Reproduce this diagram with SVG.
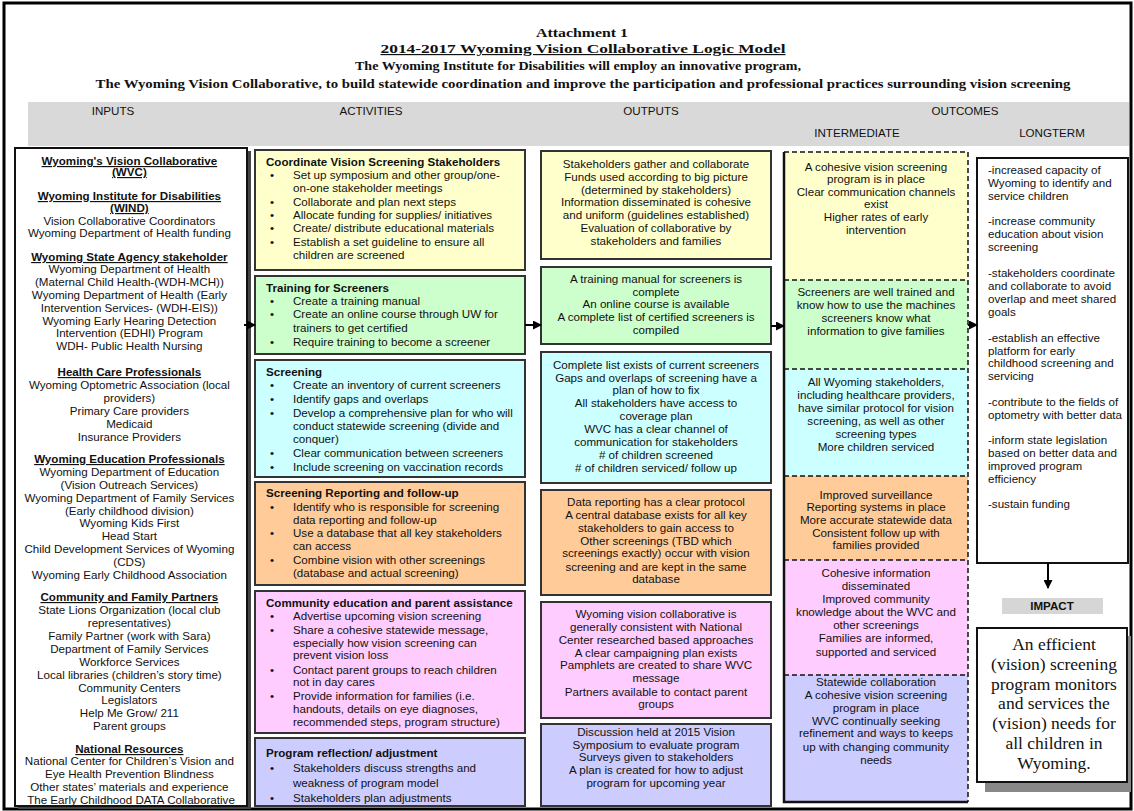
<svg xmlns="http://www.w3.org/2000/svg" width="1134" height="811" viewBox="0 0 1134 811">
<style>
text{font-family:"Liberation Sans",Arial,sans-serif;font-size:11.6px;fill:#111}
.hd{font-family:"Liberation Serif","Times New Roman",serif;font-weight:bold;text-anchor:middle}
.col{font-size:11.6px;text-anchor:middle;fill:#111}
.c{text-anchor:middle}
.b{font-weight:bold}
.u{text-decoration:underline}
.box{stroke:#333;stroke-width:2}
.yel{fill:#ffffcc}.grn{fill:#ccffcc}.cya{fill:#ccffff}.org{fill:#ffcc99}.pnk{fill:#ffccff}.lav{fill:#ccccff}
.dash{stroke:#111;stroke-width:1.5;stroke-dasharray:5 3;fill:none}
.con{stroke:#000;stroke-width:2;fill:none;marker-end:url(#arr)}
.imp{font-family:"Liberation Serif","Times New Roman",serif;font-size:17.5px;text-anchor:middle}
</style>
<defs>
<marker id="arr" markerUnits="userSpaceOnUse" markerWidth="9" markerHeight="9" refX="8" refY="4.5" orient="auto">
<path d="M0,0 L9,4.5 L0,9 z" fill="#000"/>
</marker>
</defs>
<rect x="0" y="0" width="1134" height="811" fill="#fff"/>
<rect x="4" y="3" width="1127" height="806" fill="none" stroke="#000" stroke-width="3"/>

<g id="header">
<text class="hd" x="582" y="37" font-size="18" textLength="92" lengthAdjust="spacingAndGlyphs">Attachment 1</text>
<text class="hd u" x="583" y="53" font-size="19" textLength="405" lengthAdjust="spacingAndGlyphs">2014-2017 Wyoming Vision Collaborative Logic Model</text>
<text class="hd" x="578" y="70" font-size="15" textLength="446" lengthAdjust="spacingAndGlyphs">The Wyoming Institute for Disabilities will employ an innovative program,</text>
<text class="hd" x="583" y="88" font-size="15" textLength="975" lengthAdjust="spacingAndGlyphs">The Wyoming Vision Collaborative, to build statewide coordination and improve the participation and professional practices surrounding vision screening</text>
</g>

<g id="column-band">
<rect x="28" y="102" width="1101" height="44" fill="#d9d9d9"/>
<text class="col" x="113" y="115">INPUTS</text>
<text class="col" x="371" y="115">ACTIVITIES</text>
<text class="col" x="651" y="115">OUTPUTS</text>
<text class="col" x="965" y="115">OUTCOMES</text>
<text class="col" x="857" y="137">INTERMEDIATE</text>
<text class="col" x="1052" y="137">LONGTERM</text>
</g>

<g id="inputs">
<rect x="18" y="151" width="233" height="658" fill="#444"/>
<rect x="15" y="148" width="232" height="658" fill="#fff" stroke="#111" stroke-width="2"/>
<text class="c">
<tspan class="b u" x="131" y="165">Wyoming's Vision Collaborative</tspan>
<tspan class="b u" x="131" y="176">(WVC)</tspan>
<tspan class="b u" x="131" y="200">Wyoming Institute for Disabilities</tspan>
<tspan class="b u" x="131" y="212">(WIND)</tspan>
<tspan x="131" y="225">Vision Collaborative Coordinators</tspan>
<tspan x="131" y="237">Wyoming Department of Health funding</tspan>
<tspan class="b u" x="131" y="261">Wyoming State Agency stakeholder</tspan>
<tspan x="131" y="273">Wyoming Department of Health</tspan>
<tspan x="131" y="286">(Maternal Child Health-(WDH-MCH))</tspan>
<tspan x="131" y="299">Wyoming Department of Health (Early</tspan>
<tspan x="131" y="312">Intervention Services- (WDH-EIS))</tspan>
<tspan x="131" y="325">Wyoming Early Hearing Detection</tspan>
<tspan x="131" y="337">Intervention (EDHI) Program</tspan>
<tspan x="131" y="350">WDH- Public Health Nursing</tspan>
<tspan class="b u" x="131" y="376">Health Care Professionals</tspan>
<tspan x="131" y="389">Wyoming Optometric Association (local</tspan>
<tspan x="131" y="402">providers)</tspan>
<tspan x="131" y="415">Primary Care providers</tspan>
<tspan x="131" y="428">Medicaid</tspan>
<tspan x="131" y="441">Insurance Providers</tspan>
<tspan class="b u" x="131" y="463">Wyoming Education Professionals</tspan>
<tspan x="131" y="476">Wyoming Department of Education</tspan>
<tspan x="131" y="489">(Vision Outreach Services)</tspan>
<tspan x="131" y="502">Wyoming Department of Family Services</tspan>
<tspan x="131" y="515">(Early childhood division)</tspan>
<tspan x="131" y="527">Wyoming Kids First</tspan>
<tspan x="131" y="540">Head Start</tspan>
<tspan x="131" y="553">Child Development Services of Wyoming</tspan>
<tspan x="131" y="566">(CDS)</tspan>
<tspan x="131" y="579">Wyoming Early Childhood Association</tspan>
<tspan class="b u" x="131" y="601">Community and Family Partners</tspan>
<tspan x="131" y="614">State Lions Organization (local club</tspan>
<tspan x="131" y="627">representatives)</tspan>
<tspan x="131" y="640">Family Partner (work with Sara)</tspan>
<tspan x="131" y="653">Department of Family Services</tspan>
<tspan x="131" y="666">Workforce Services</tspan>
<tspan x="131" y="679">Local libraries (children’s story time)</tspan>
<tspan x="131" y="692">Community Centers</tspan>
<tspan x="131" y="704">Legislators</tspan>
<tspan x="131" y="717">Help Me Grow/ 211</tspan>
<tspan x="131" y="730">Parent groups</tspan>
<tspan class="b u" x="131" y="753">National Resources</tspan>
<tspan x="131" y="765">National Center for Children’s Vision and</tspan>
<tspan x="131" y="778">Eye Health Prevention Blindness</tspan>
<tspan x="131" y="791">Other states’ materials and experience</tspan>
<tspan x="131" y="804">The Early Childhood DATA Collaborative</tspan>
</text>
</g>

<g id="act-coordinate">
<rect class="box yel" x="255" y="150" width="270" height="120"/>
<text class="b" x="266" y="166">Coordinate Vision Screening Stakeholders</text>
<text x="270" y="179">•</text><text x="293" y="179">Set up symposium and other group/one-</text>
<text x="293" y="192">on-one stakeholder meetings</text>
<text x="270" y="206">•</text><text x="293" y="206">Collaborate and plan next steps</text>
<text x="270" y="219">•</text><text x="293" y="219">Allocate funding for supplies/ initiatives</text>
<text x="270" y="232">•</text><text x="293" y="232">Create/ distribute educational materials</text>
<text x="270" y="246">•</text><text x="293" y="246">Establish a set guideline to ensure all</text>
<text x="293" y="259">children are screened</text>
</g>
<g id="act-training">
<rect class="box grn" x="255" y="276" width="270" height="78"/>
<text class="b" x="266" y="292">Training for Screeners</text>
<text x="270" y="305">•</text><text x="293" y="305">Create a training manual</text>
<text x="270" y="318">•</text><text x="293" y="318">Create an online course through UW for</text>
<text x="293" y="332">trainers to get certified</text>
<text x="270" y="346">•</text><text x="293" y="346">Require training to become a screener</text>
</g>
<g id="act-screening">
<rect class="box cya" x="255" y="360" width="270" height="117"/>
<text class="b" x="266" y="376">Screening</text>
<text x="270" y="389">•</text><text x="293" y="389">Create an inventory of current screeners</text>
<text x="270" y="403">•</text><text x="293" y="403">Identify gaps and overlaps</text>
<text x="270" y="417">•</text><text x="293" y="417">Develop a comprehensive plan for who will</text>
<text x="293" y="430">conduct statewide screening (divide and</text>
<text x="293" y="443">conquer)</text>
<text x="270" y="457">•</text><text x="293" y="457">Clear communication between screeners</text>
<text x="270" y="471">•</text><text x="293" y="471">Include screening on vaccination records</text>
</g>
<g id="act-reporting">
<rect class="box org" x="255" y="482" width="270" height="103"/>
<text class="b" x="266" y="497">Screening Reporting and follow-up</text>
<text x="270" y="511">•</text><text x="293" y="511">Identify who is responsible for screening</text>
<text x="293" y="524">data reporting and follow-up</text>
<text x="270" y="537">•</text><text x="293" y="537">Use a database that all key stakeholders</text>
<text x="293" y="550">can access</text>
<text x="270" y="564">•</text><text x="293" y="564">Combine vision with other screenings</text>
<text x="293" y="577">(database and actual screening)</text>
</g>
<g id="act-community">
<rect class="box pnk" x="255" y="591" width="270" height="142"/>
<text class="b" x="266" y="607">Community education and parent assistance</text>
<text x="270" y="620">•</text><text x="293" y="620">Advertise upcoming vision screening</text>
<text x="270" y="634">•</text><text x="293" y="634">Share a cohesive statewide message,</text>
<text x="293" y="647">especially how vision screening can</text>
<text x="293" y="659">prevent vision loss</text>
<text x="270" y="674">•</text><text x="293" y="674">Contact parent groups to reach children</text>
<text x="293" y="686">not in day cares</text>
<text x="270" y="700">•</text><text x="293" y="700">Provide information for families (i.e.</text>
<text x="293" y="713">handouts, details on eye diagnoses,</text>
<text x="293" y="726">recommended steps, program structure)</text>
</g>
<g id="act-reflection">
<rect class="box lav" x="255" y="738" width="270" height="68"/>
<text class="b" x="266" y="757" font-size="13.5">Program reflection/ adjustment</text>
<text x="270" y="772" font-size="13">•</text><text x="293" y="772" font-size="13">Stakeholders discuss strengths and</text>
<text x="293" y="787" font-size="13">weakness of program model</text>
<text x="270" y="802" font-size="13">•</text><text x="293" y="802" font-size="13">Stakeholders plan adjustments</text>
</g>

<g id="out-coordinate">
<rect class="box yel" x="541" y="151" width="230" height="108"/>
<text class="c"><tspan x="656" y="168">Stakeholders gather and collaborate</tspan><tspan x="656" y="181">Funds used according to big picture</tspan><tspan x="656" y="194">(determined by stakeholders)</tspan><tspan x="656" y="206">Information disseminated is cohesive</tspan><tspan x="656" y="219">and uniform (guidelines established)</tspan><tspan x="656" y="232">Evaluation of collaborative by</tspan><tspan x="656" y="245">stakeholders and families</tspan></text>
</g>
<g id="out-training">
<rect class="box grn" x="541" y="267" width="230" height="77"/>
<text class="c"><tspan x="656" y="283">A training manual for screeners is</tspan><tspan x="656" y="296">complete</tspan><tspan x="656" y="308">An online course is available</tspan><tspan x="656" y="321">A complete list of certified screeners is</tspan><tspan x="656" y="334">compiled</tspan></text>
</g>
<g id="out-screening">
<rect class="box cya" x="541" y="352" width="230" height="131"/>
<text class="c"><tspan x="656" y="369">Complete list exists of current screeners</tspan><tspan x="656" y="382">Gaps and overlaps of screening have a</tspan><tspan x="656" y="394">plan of how to fix</tspan><tspan x="656" y="407">All stakeholders have access to</tspan><tspan x="656" y="420">coverage plan</tspan><tspan x="656" y="433">WVC has a clear channel of</tspan><tspan x="656" y="446">communication for stakeholders</tspan><tspan x="656" y="459"># of children screened</tspan><tspan x="656" y="472"># of children serviced/ follow up</tspan></text>
</g>
<g id="out-reporting">
<rect class="box org" x="541" y="490" width="230" height="105"/>
<text class="c"><tspan x="656" y="506">Data reporting has a clear protocol</tspan><tspan x="656" y="519">A central database exists for all key</tspan><tspan x="656" y="532">stakeholders to gain access to</tspan><tspan x="656" y="545">Other screenings (TBD which</tspan><tspan x="656" y="557">screenings exactly) occur with vision</tspan><tspan x="656" y="571">screening and are kept in the same</tspan><tspan x="656" y="583">database</tspan></text>
</g>
<g id="out-community">
<rect class="box pnk" x="541" y="602" width="230" height="116"/>
<text class="c"><tspan x="656" y="618">Wyoming vision collaborative is</tspan><tspan x="656" y="631">generally consistent with National</tspan><tspan x="656" y="644">Center researched based approaches</tspan><tspan x="656" y="657">A clear campaigning plan exists</tspan><tspan x="656" y="669">Pamphlets are created to share WVC</tspan><tspan x="656" y="682">message</tspan><tspan x="656" y="696">Partners available to contact parent</tspan><tspan x="656" y="708">groups</tspan></text>
</g>
<g id="out-reflection">
<rect class="box lav" x="541" y="724" width="230" height="82"/>
<text class="c"><tspan x="656" y="736">Discussion held at 2015 Vision</tspan><tspan x="656" y="749">Symposium to evaluate program</tspan><tspan x="656" y="761">Surveys given to stakeholders</tspan><tspan x="656" y="774">A plan is created for how to adjust</tspan><tspan x="656" y="787">program for upcoming year</tspan></text>
</g>

<g id="intermediate">
<rect class="yel" x="784" y="152" width="184" height="128"/>
<rect class="grn" x="784" y="280" width="184" height="89"/>
<rect class="cya" x="784" y="369" width="184" height="107"/>
<rect class="org" x="784" y="476" width="184" height="84"/>
<rect class="pnk" x="784" y="560" width="184" height="115"/>
<rect class="lav" x="784" y="675" width="184" height="127"/>
<path class="dash" d="M784,152 H968 V802 M784,280 H968 M784,369 H968 M784,476 H968 M784,560 H968 M784,675 H968"/>
<path d="M784,152 V802 H968" fill="none" stroke="#111" stroke-width="2.5"/>
<text class="c"><tspan x="876" y="171">A cohesive vision screening</tspan><tspan x="876" y="183">program is in place</tspan><tspan x="876" y="196">Clear communication channels</tspan><tspan x="876" y="208">exist</tspan><tspan x="876" y="221">Higher rates of early</tspan><tspan x="876" y="234">intervention</tspan></text>
<text class="c"><tspan x="876" y="296">Screeners are well trained and</tspan><tspan x="876" y="309">know how to use the machines</tspan><tspan x="876" y="322">screeners know what</tspan><tspan x="876" y="335">information to give families</tspan></text>
<text class="c"><tspan x="876" y="386">All Wyoming stakeholders,</tspan><tspan x="876" y="399">including healthcare providers,</tspan><tspan x="876" y="412">have similar protocol for vision</tspan><tspan x="876" y="425">screening, as well as other</tspan><tspan x="876" y="438">screening types</tspan><tspan x="876" y="451">More children serviced</tspan></text>
<text class="c"><tspan x="876" y="499">Improved surveillance</tspan><tspan x="876" y="511">Reporting systems in place</tspan><tspan x="876" y="524">More accurate statewide data</tspan><tspan x="876" y="537">Consistent follow up with</tspan><tspan x="876" y="549">families provided</tspan></text>
<text class="c"><tspan x="876" y="577">Cohesive information</tspan><tspan x="876" y="590">disseminated</tspan><tspan x="876" y="603">Improved community</tspan><tspan x="876" y="616">knowledge about the WVC and</tspan><tspan x="876" y="629">other screenings</tspan><tspan x="876" y="642">Families are informed,</tspan><tspan x="876" y="656">supported and serviced</tspan></text>
<text class="c"><tspan x="876" y="686">Statewide collaboration</tspan><tspan x="876" y="699">A cohesive vision screening</tspan><tspan x="876" y="712">program in place</tspan><tspan x="876" y="725">WVC continually seeking</tspan><tspan x="876" y="737">refinement and ways to keeps</tspan><tspan x="876" y="751">up with changing community</tspan><tspan x="876" y="764">needs</tspan></text>
</g>

<g id="longterm">
<rect x="977" y="158" width="151" height="405" fill="#fff" stroke="#111" stroke-width="2"/>
<text><tspan x="988" y="174">-increased capacity of</tspan><tspan x="988" y="187">Wyoming to identify and</tspan><tspan x="988" y="200">service children</tspan><tspan x="988" y="225">-increase community</tspan><tspan x="988" y="238">education about vision</tspan><tspan x="988" y="251">screening</tspan><tspan x="988" y="277">-stakeholders coordinate</tspan><tspan x="988" y="290">and collaborate to avoid</tspan><tspan x="988" y="303">overlap and meet shared</tspan><tspan x="988" y="316">goals</tspan><tspan x="988" y="342">-establish an effective</tspan><tspan x="988" y="355">platform for early</tspan><tspan x="988" y="367">childhood screening and</tspan><tspan x="988" y="380">servicing</tspan><tspan x="988" y="406">-contribute to the fields of</tspan><tspan x="988" y="419">optometry with better data</tspan><tspan x="988" y="444">-inform state legislation</tspan><tspan x="988" y="457">based on better data and</tspan><tspan x="988" y="470">improved program</tspan><tspan x="988" y="483">efficiency</tspan><tspan x="988" y="508">-sustain funding</tspan></text>
</g>

<g id="impact-label">
<rect x="1002" y="598" width="101" height="16" fill="#d6d6d6"/>
<text class="c b" x="1052" y="610" font-size="13">IMPACT</text>
</g>

<g id="impact">
<rect x="985" y="636" width="146" height="156" fill="#888"/>
<rect x="977" y="628" width="150" height="154" fill="#fff" stroke="#111" stroke-width="2"/>
<text class="imp"><tspan x="1054" y="650">An efficient</tspan><tspan x="1054" y="670">(vision) screening</tspan><tspan x="1054" y="690">program monitors</tspan><tspan x="1054" y="709">and services the</tspan><tspan x="1054" y="729">(vision) needs for</tspan><tspan x="1054" y="749">all children in</tspan><tspan x="1054" y="769">Wyoming.</tspan></text>
</g>

<g id="connectors">
<path class="con" d="M244,325 H255"/>
<path class="con" d="M525,325 H541"/>
<path class="con" d="M771,326 H784"/>
<path class="con" d="M968,325 H977"/>
<path class="con" d="M1048,563 V588"/>
</g>
</svg>
